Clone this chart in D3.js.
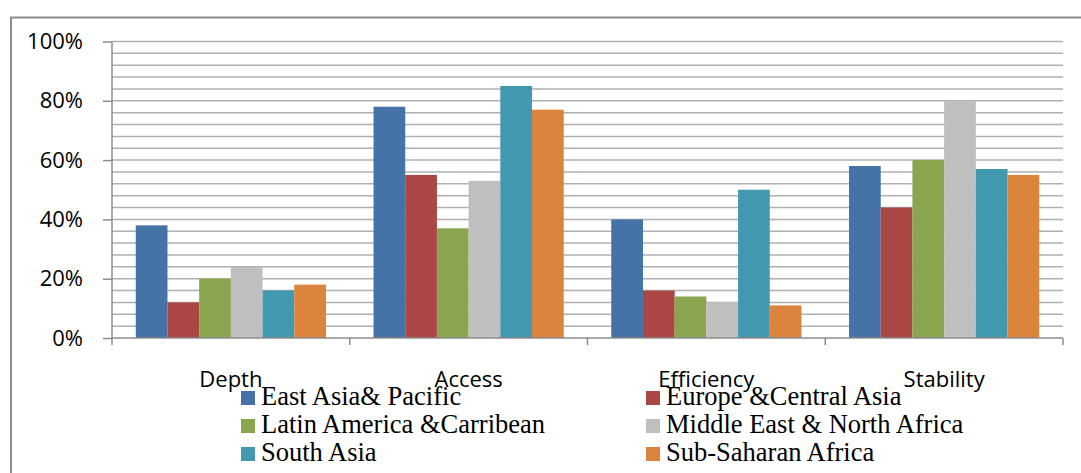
<!DOCTYPE html>
<html>
<head>
<meta charset="utf-8">
<script src="https://cdn.jsdelivr.net/npm/d3@7"></script>
<style>
  html, body { margin: 0; padding: 0; background: #fff; }
  svg { display: block; }
</style>
</head>
<body>
<svg id="chart" width="1081" height="473"></svg>
<script>
// Financial system dimensions by region
const categories = ["Depth", "Access", "Efficiency", "Stability"];
const seriesNames = [
  "East Asia& Pacific",
  "Europe &Central Asia",
  "Latin America &Carribean",
  "Middle East & North Africa",
  "South Asia",
  "Sub-Saharan Africa"
];
const eastAsiaPacific   = [38, 78, 40, 58];
const europeCentralAsia = [12, 55, 16, 44];
const latinAmerica      = [20, 37, 14, 60];
const middleEastNAfrica = [24, 53, 12, 80];
const southAsia         = [16, 85, 50, 57];
const subSaharanAfrica  = [18, 77, 11, 55];
const yTicks = [0, 20, 40, 60, 80, 100];

const seriesValues = [eastAsiaPacific, europeCentralAsia, latinAmerica,
                      middleEastNAfrica, southAsia, subSaharanAfrica];
const colors = ["#4572A7", "#AA4643", "#89A54E", "#BFBFBF", "#4198AF", "#DB843D"];

const svg = d3.select("#chart");

// outer chart frame
svg.append("rect")
  .attr("x", 11).attr("y", 17.5)
  .attr("width", 1100).attr("height", 500)
  .attr("fill", "none").attr("stroke", "#8c8c8c").attr("stroke-width", 2);

const plotLeft = 112, plotRight = 1063, plotTop = 41.5, plotBottom = 338;

const x0 = d3.scaleBand().domain(categories).range([plotLeft, plotRight]).padding(0);
// gap width 150% of a bar: 0.75 bar on each side of the group
const x1 = d3.scaleBand().domain(d3.range(seriesNames.length))
  .range([0, x0.bandwidth()]).paddingInner(0).paddingOuter(0.75);
const y = d3.scaleLinear().domain([0, 100]).range([plotBottom, plotTop]);

// horizontal gridlines every 4%
const gridVals = d3.range(4, 101, 4);
svg.append("g").selectAll("line").data(gridVals).join("line")
  .attr("x1", plotLeft).attr("x2", plotRight)
  .attr("y1", d => y(d)).attr("y2", d => y(d))
  .attr("stroke", "#b0b0b0").attr("stroke-width", 1.5);

// bars
const groups = svg.append("g").selectAll("g").data(categories).join("g")
  .attr("transform", d => `translate(${x0(d)},0)`);
groups.selectAll("rect")
  .data((c, ci) => seriesValues.map((vals, si) => ({ si, v: vals[ci] })))
  .join("rect")
  .attr("x", d => x1(d.si))
  .attr("width", x1.bandwidth())
  .attr("y", d => y(d.v))
  .attr("height", d => y(0) - y(d.v))
  .attr("fill", d => colors[d.si]);

// y axis
const yAxis = d3.axisLeft(y).tickValues(yTicks).tickFormat(d => d + "%").tickSize(9).tickPadding(20);
const gy = svg.append("g").attr("transform", `translate(${plotLeft},0)`).call(yAxis);
gy.select(".domain").attr("stroke", "#8c8c8c").attr("stroke-width", 1.5).attr("d", `M0,${plotTop}V${plotBottom}`);
gy.selectAll(".tick line").attr("stroke", "#8c8c8c").attr("stroke-width", 1.5);
gy.selectAll(".tick text")
  .attr("font-family", "'Open Sans', sans-serif").attr("font-size", 22).attr("fill", "#000");

// x axis with tick marks at category boundaries
const boundaries = categories.map(c => x0(c)).concat([plotRight]);
svg.append("line").attr("x1", plotLeft).attr("x2", plotRight).attr("y1", plotBottom).attr("y2", plotBottom)
  .attr("stroke", "#8c8c8c").attr("stroke-width", 1.5);
svg.append("g").selectAll("line").data(boundaries).join("line")
  .attr("x1", d => d).attr("x2", d => d).attr("y1", plotBottom).attr("y2", plotBottom + 7)
  .attr("stroke", "#8c8c8c").attr("stroke-width", 1.5);
svg.append("g").selectAll("text").data(categories).join("text")
  .attr("x", d => x0(d) + x0.bandwidth() / 2)
  .attr("y", 387)
  .attr("text-anchor", "middle")
  .attr("font-family", "'Open Sans', sans-serif").attr("font-size", 22).attr("fill", "#000")
  .text(d => d);

// legend: two columns, three rows
const legend = svg.append("g").selectAll("g").data(seriesNames).join("g")
  .attr("transform", (d, i) => `translate(${i % 2 === 0 ? 241 : 646},${391 + Math.floor(i / 2) * 28})`);
legend.append("rect").attr("width", 14).attr("height", 14).attr("fill", (d, i) => colors[i]);
legend.append("text").attr("x", 20).attr("y", 14)
  .attr("font-family", "'Liberation Serif', 'Times New Roman', serif").attr("font-size", 26.5).attr("fill", "#000")
  .text(d => d);
</script>
</body>
</html>
